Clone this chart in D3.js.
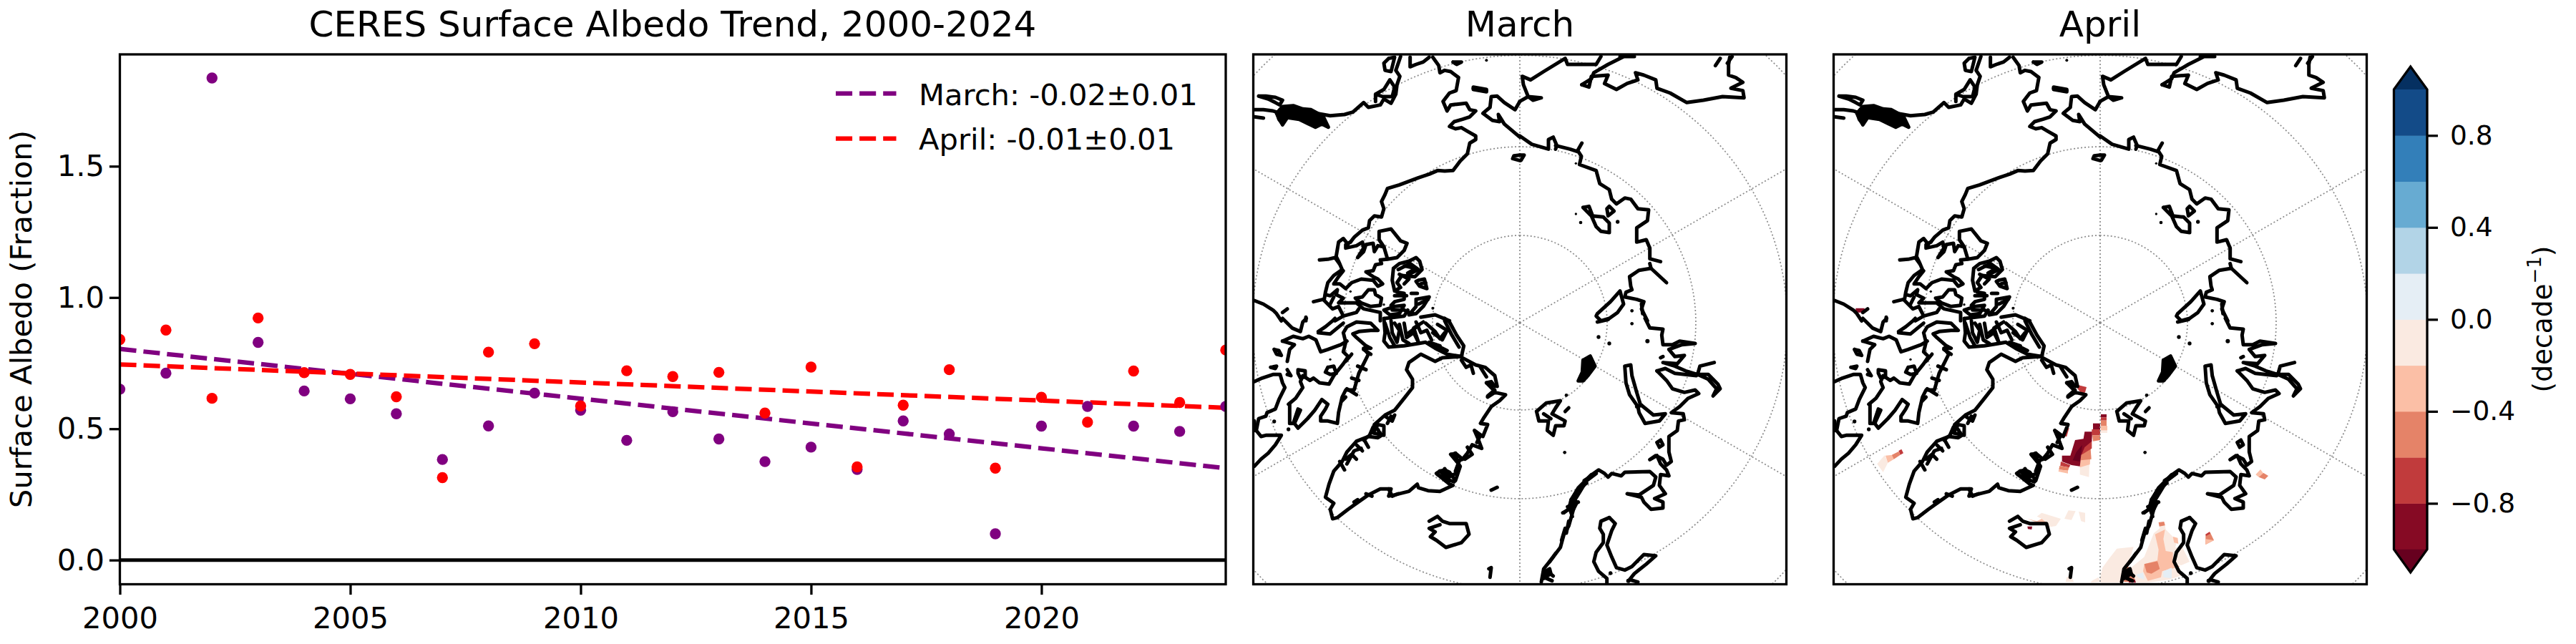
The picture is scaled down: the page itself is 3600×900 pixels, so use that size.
<!DOCTYPE html>
<html><head><meta charset="utf-8">
<script src="https://cdn.jsdelivr.net/npm/d3@7/dist/d3.min.js"></script>
<style>html,body{margin:0;padding:0;background:#fff}svg{display:block}text{font-family:"DejaVu Sans";fill:#000}</style>
</head><body><svg id="c" width="3600" height="900"></svg>
<script>
// ---------- time series ----------
const years=[2000,2001,2002,2003,2004,2005,2006,2007,2008,2009,2010,2011,2012,2013,2014,2015,2016,2017,2018,2019,2020,2021,2022,2023,2024];
const marchValues=[.651,.712,1.836,.829,.644,.614,.557,.383,.511,.636,.571,.456,.565,.461,.375,.43,.345,.53,.48,.10,.51,.585,.51,.49,.585];
const aprilValues=[.84,.876,.616,.922,.714,.707,.622,.314,.792,.824,.587,.721,.699,.715,.56,.735,.355,.59,.725,.35,.62,.525,.72,.60,.80];
const marchTrend=[.804,.35];
const aprilTrend=[.745,.58];
const legendLabels=["March: -0.02\u00b10.01","April: -0.01\u00b10.01"];
const xTicks=[2000,2005,2010,2015,2020];
const yTicks=[0,.5,1,1.5];
// ---------- colour bar ----------
const cbLevels=[-1,-.8,-.6,-.4,-.2,0,.2,.4,.6,.8,1];
const cbColors=["#860a24","#c13b3c","#e58368","#fbbfa6","#faeae1","#e5eef5","#b2d4e7","#67abd2","#337fb9","#134b88"];
const cbUnder="#67001f",cbOver="#053061";
const cbTicks=[-.8,-.4,0,.4,.8];
// ---------- graticule ----------
const parallels=[80,70,60,50];
const meridians=[0,60,120,180,-120,-60];
// ---------- coastlines digitised on the map plane, one quadrant at a time (x,y,x,y,...) ----------
const coastNW=[
[415,790,430,770,465,740,490,730,495,700,515,680,545,685,555,650,545,620,560,590,570,565,620,550,660,535,700,520,745,505,780,490,810,492,845,490,875,450,905,420,915,375,940,360,940,345,905,325,880,310,855,315,830,305,850,285,885,275,915,265,940,240,915,235,900,208,860,212,835,215,820,240,803,200,830,165,858,155,868,100,835,75,810,70,790,80,785,50,760,15],
[625,12,605,70,622,95,610,130,605,170,585,208,555,190,540,215,490,225,470,205,425,245,390,255,330,260,270,250],
[520,170,550,180,590,180,600,140,580,110,555,150,520,170,520,200],
[575,20,600,15,585,75,560,70,555,40,575,20],
[665,15,665,55,690,45,720,35,745,15],
[845,35,880,35,860,45,845,35],
[930,145,985,155],
[1125,200,1105,235,1060,205,1030,178,1005,180,1000,225,970,250,1010,280,1040,285,1035,255,1060,295,1125,350],
[1125,425,1100,428,1095,440,1125,448],
[30,178,60,178,100,183,130,195,118,215,100,205,70,190,30,178],
[12,235,50,235,90,240,105,245,115,275,130,295],
[12,265,50,270],
[405,800,385,775,365,790,355,850,365,870,380,905,345,930,320,960,310,1000,305,1030],
[285,865,320,862,350,855,368,880],
[415,790,395,800,395,815,440,805,465,790,470,815,445,855,470,830,480,800,510,795,515,830,530,805,555,810,570,860],
[555,810,535,780,535,745,585,735,625,785,652,795,640,825,610,855,570,862,540,865,545,880,520,885,510,910,480,915,510,935,530,945,550,965,530,975,510,950,460,945,420,960,395,985,370,965,345,965,365,935,385,910],
[435,1025,465,1020,490,990,515,990,520,1010,545,1025,540,1055,500,1060,460,1045,440,1030],
[595,900,620,880,660,870,690,855,705,870,715,905,685,935,630,930,610,960,625,980,600,995,590,950,595,900],
[640,890,690,900,655,920],
[615,905,665,880,700,905,660,925],[620,925,660,945,640,965],
[700,950,725,945,735,985,705,975,690,955,700,950],[710,965,730,960],
[670,1005,695,1005],
[610,1000,640,1005,640,1030,600,1040,585,1055,600,1060,640,1055,620,1090,580,1095,555,1075,600,1060],
[600,1015,650,1015],[590,1075,640,1075,660,1085],
[690,1030,745,1020,720,1060,690,1090,660,1095,690,1060,690,1030],[700,1050,740,1030],
[710,1105,770,1095,830,1120],
[560,1110,640,1100,655,1075],
[310,1010,330,1015,360,990,355,1010,385,1025,365,1045,395,1045,440,1045,470,1070,540,1085,540,1120],
[260,1040,300,1030,320,1050,340,1070,365,1060,385,1100,440,1085,450,1070],
[330,1050,345,1020],[385,1100,350,1120],
[12,1035,50,1050,90,1075,105,1090,125,1120],[130,1085,150,1070],[228,1105,228,1120]
];
const coastNE=[
[0,200,35,180,90,185,55,195,35,180,15,130,10,95,45,110,100,75,190,20,200,45,260,45,320,45,340,12],
[420,12,480,12],
[260,130,290,140,300,95,370,90,355,125,405,150,450,125,495,110,485,80,520,90,570,110,575,145,630,165,700,205,770,195,850,180,940,185,935,155,885,145,915,130,935,120,905,100,875,90,875,45,880,15],
[260,130,300,105,310,80,370,45,430,15],
[820,50,840,20],[870,40,890,12],
[0,345,50,380,120,400,120,360,140,350,155,385,150,400],
[150,385,210,400,240,410,260,375],
[245,410,258,430,250,465,320,490,335,545,375,570,385,610,405,630,440,605,465,610,495,650,540,655,535,700,490,730,490,790,530,780,545,815,545,860,590,872],
[545,880,550,900,615,960],
[550,900,500,908,460,935,465,975,470,990,445,1000,440,1020,490,1030,520,1040,510,1070,535,1120],
[0,425,18,425,5,447],
[265,645,290,640,305,680,350,685,375,710,375,750,340,745,320,725,300,680,265,645],
[375,640,395,660,370,680,365,650,375,640],
[325,1090,380,1040,420,995,435,1050,410,1085,375,1110,340,1120,320,1100,325,1090],
[510,1050,515,1090]
];
const coastSW=[
[12,265,45,250,90,235,120,235,130,270,140,290,115,340,100,380,65,395,60,410,30,420,20,470,40,495,60,490,125,490,100,530,70,565,40,590,12,620],
[12,430,15,470],
[155,360,185,335,215,290,205,265,215,240,245,260,260,250,285,270,325,275,345,240,385,190,405,160,385,140,395,100,385,60,400,35,440,15,500,20,530,50,500,50,450,55,425,65,440,80,480,115,500,125,470,125,490,150,470,190,450,230,440,265,430,300,395,300,380,330,365,395,360,440,320,430,290,430,290,410,310,380,320,360,295,340,265,385,235,420,195,460,180,440,205,385,195,380,175,440,160,440,160,360],
[470,130,500,150],[445,200,480,215],[420,250,450,260],[400,295,440,320],[395,330,380,345],
[130,0,170,40,205,55,215,15,230,0],
[130,95,175,75,215,85,240,75,270,90,290,140,320,130,375,110,400,95],
[150,180,160,130,180,110,130,95],
[280,55,310,35,340,10,350,0],[280,60,330,65,360,40,385,20],
[95,130,115,135,125,155,105,150,95,130],
[80,205,105,200,100,210,80,205],
[150,215,165,240,150,235],
[195,215,225,220,225,245,205,250,195,230,195,215],
[320,205,345,200,355,230,330,235,310,225,320,205],
[395,180,420,150],
[555,0,560,60,555,95,575,120,640,115,700,105,730,100,770,125,820,150,880,160,890,115,860,70,830,15,810,0],
[585,10,590,60,610,100,620,50,600,20],
[640,20,650,80,680,60,700,100,680,40,720,15],
[780,25,820,50,800,90,760,60],[745,100,790,115],
[560,20,580,80,600,115],[620,25,635,90,660,105],[690,15,710,60,735,50,755,90],[730,20,770,55,790,85,810,60],[810,10,840,70,870,120],[770,110,820,135],[660,60,700,30],
[875,160,940,195,980,205,1020,240,1030,285,985,270,1020,305,990,330,1020,310,1065,320,1040,345,1005,370,975,415,960,440,990,445,970,495,935,470,950,505,965,545,925,530,905,565,885,590,855,565,840,570,875,620,855,680,830,645,810,635,790,640,775,650,830,695,845,700,790,725,740,722,700,710,695,695,660,725,600,740,575,745,585,715,540,715,490,740,440,775,405,800,360,835,340,840,330,800,345,775,310,750,325,695,345,640,380,600,400,560,440,515,490,495,530,500,545,490,515,445,560,405,600,385,640,335,675,290,675,255,650,215,660,185,710,150,770,180,800,165,875,160],
[510,480,530,445,555,450,555,490,510,480],
[400,610,430,555,460,545],[470,505,490,540],[585,410,570,440],[790,640,830,680],[840,570,870,600,855,640],
[790,640,830,660,860,650],[780,655,820,675,850,685],[810,630,830,665],[835,570,860,600,885,590],[855,565,870,620],
[935,470,960,490,945,520],[905,540,925,570,895,590],[985,270,1005,265,1020,285],[990,325,1020,300],[880,175,900,205,920,195,930,230],[960,205,985,245],
[510,455,495,490,470,510],[440,530,465,555],[395,590,420,570,440,590],[370,600,390,635],[560,410,590,430,600,405],
[430,770,445,760],[480,735,505,745],[575,715,590,745,615,735],
[745,850,780,830,800,850,830,860,900,860,912,905,880,940,815,960,775,930,750,915,770,895,745,880,790,865],
[1005,720,1030,708],[995,1050,1005,1045,1000,1085]
];
const coastSE=[
[440,200,465,195,470,240,490,310,505,360,560,405,610,400,585,430,525,440,500,395,495,370,460,320,445,270,440,200],[490,370,510,365],
[525,0,545,40,600,45,595,70,600,110,640,110,670,95,735,105,680,110,625,130,650,160,690,155,660,190,600,185,650,200,695,220,745,235,755,200,815,185],
[745,235,790,235,830,275,840,295,810,325,825,295,790,255,745,235],
[575,220,610,210,650,230,740,240],
[575,220,615,260,640,295,690,310,735,300,750,315,705,335,670,370,635,395,685,400,690,425,665,430,660,470,625,495,625,560,635,600,615,615,600,590,570,575,545,592,575,575,590,610,615,635,625,660,590,655,585,700,610,735,565,755,600,770,600,795,550,800,520,770,510,750,450,735,500,740,560,700,570,665,545,642,440,645,425,660,385,650,370,665,355,650,330,635,295,660,245,710,215,765,225,800,205,870,185,905,170,960,140,1000,100,1050,90,1105],
[300,655,270,690,240,720,215,760],[320,650,280,680,250,730,225,770],[235,740,215,790],[205,850,195,900],[190,880,175,930],[150,985,125,1020],[115,1060,140,1080],[100,1085,135,1100],[185,815,215,790],[210,800,220,830],
[375,835,340,850,335,880,350,905,350,940,320,980,310,1020,330,1060,365,1090,365,1110],
[375,835,400,860,385,890,365,950,385,1000,405,1045,440,1055,470,1040,520,990,570,995,530,1030,480,1070,460,1095,495,1105],
[70,390,110,355,170,345,150,375,135,400,190,430,185,450,150,450,140,490,115,470,120,430,80,430,70,390],
[100,400,130,420],[190,390,205,375],
[325,15,370,5],
[575,520,590,510,600,530,585,540,575,520],
[590,165,600,160],
[270,680,300,660],[200,790,245,770],[180,815,225,790],[240,720,280,690]
];
const solidsNW=[[130,222,175,218,215,232,250,235,300,262,322,308,295,295,268,308,240,295,200,275,150,268,130,298,105,250,130,222],[930,140,985,150,985,160,930,150]];
const solidsSE=[[245,262,262,225,265,175,295,158,315,200,285,240,265,262],[215,760,240,770,225,800,205,800],[100,1065,125,1050,130,1070,100,1090]];
const dotsNW=[[985,28,6],[415,997,5],[555,1052,5],[760,1067,6]];
const dotsNE=[[235,460,5],[235,672,5],[255,708,7],[410,705,8],[470,1078,7]];
const dotsSW=[[95,432,8],[330,172,5],[155,465,8]];
const dotsSE=[[330,78,8],[375,105,8],[470,22,7],[535,95,9],[195,322,7],[188,562,7],[380,1068,8],[455,1100,9]];
// ---------- April trend patches digitised on the map plane: [level index, polygon] ----------
const cellsNW=[[0,[100,1067,137,1067,137,1085,100,1085]]];
const cellsSW=[
[4,[1040,620,1080,610,1078,665,1040,655]],[3,[1040,590,1085,560,1082,612,1040,625]],[2,[1045,570,1085,545,1088,590,1042,595]],[1,[1045,570,1060,530,1090,510,1090,545,1050,570]],
[0,[965,575,1000,575,1020,510,1055,505,1060,475,1092,475,1090,515,1060,540,1045,575,1040,620,1005,615,965,600]],
[-1,[1010,595,1040,600,1050,530,1025,560]],
[1,[960,600,1000,615,995,625,958,618]],[2,[955,618,995,625,990,638,952,634]],[3,[952,634,990,638,990,650,950,642]],
[0,[1095,440,1125,440,1125,465,1095,465]],[1,[1090,465,1125,465,1125,490,1090,490]],[2,[1092,490,1125,490,1125,510,1095,515]],
[1,[1035,280,1068,288,1062,310,1050,318,1030,295]],[1,[980,460,995,460,985,495,970,495]],
[4,[190,610,222,573,235,605,215,645]],[3,[225,575,255,572,260,590,235,605]],[2,[252,572,280,558,287,572,260,590]],[1,[280,555,292,548,300,565,287,572]],
[4,[860,830,880,815,960,840,940,870,910,875,880,840]],[3,[820,840,860,850,880,840,910,865,880,865,860,855]],[0,[820,872,840,872,838,885,822,883]],
[4,[975,840,992,805,1022,808,1005,845]],[4,[1035,810,1062,815,1062,855,1045,850]],
[4,[985,1085,1000,1075,1015,1105,980,1105]],[4,[1090,1100,1118,1085,1125,1105,1085,1108]]
];
const cellsSE=[
[0,[3,402,27,402,27,415,3,415]],[1,[3,415,27,415,27,428,3,428]],[2,[3,428,27,428,27,450,3,450]],[3,[3,450,30,450,30,470,3,470]],[4,[3,470,30,470,30,480,3,480]],
[4,[10,1045,35,1010,70,965,140,958,125,1010,95,1060,90,1108,0,1108,0,1085]],
[2,[115,1040,135,1050,150,1105,100,1105,95,1060]],[0,[120,1095,150,1095,150,1108,120,1108]],
[4,[130,1045,185,1000,225,900,250,880,245,855,270,855,275,885,310,920,325,925,315,960,345,960,375,1020,340,1035,320,1030,350,1075,290,1095,200,1108,150,1108]],
[3,[230,905,272,885,265,925,275,975,305,980,305,1020,335,1040,260,1060,255,1085,200,1100,180,1060,185,1030,240,1015,245,970]],
[2,[185,1030,240,1018,250,1050,215,1070,195,1065]],[2,[245,855,268,852,272,868,248,872]],[3,[305,915,325,920,328,945,310,940]],
[5,[150,1075,180,1065,185,1095,160,1085]],[5,[265,1060,300,1045,300,1090,265,1085]],
[2,[442,905,460,895,477,930,442,948]],[3,[442,925,477,930,442,948]],[1,[442,905,458,895,462,902,444,912]],
[3,[652,655,672,633,685,650,665,665]],[2,[665,665,685,648,705,660,690,675]]
];
// ---------- drawing ----------
const svg=d3.select("#c");
const black="#000",FW=3.3,tickFS=41.67,coastW=5;
const W={l:167.5,r:1713,t:76,b:816.5};
const x=d3.scaleLinear().domain([2000,2024]).range([W.l,W.r]);
const y=d3.scaleLinear().domain([0,1.5]).range([782.7,232.3]);
const defs=svg.append("defs");
defs.append("clipPath").attr("id","cpLine").append("rect").attr("x",W.l).attr("y",W.t).attr("width",W.r-W.l).attr("height",W.b-W.t);
const g0=svg.append("g").attr("clip-path","url(#cpLine)");
g0.append("line").attr("x1",W.l).attr("x2",W.r).attr("y1",y(0)).attr("y2",y(0)).attr("stroke",black).attr("stroke-width",5);
[[marchTrend,"purple"],[aprilTrend,"red"]].forEach(([t,c])=>{
 g0.append("line").attr("x1",x(2000)).attr("x2",x(2024)).attr("y1",y(t[0])).attr("y2",y(t[1])).attr("stroke",c).attr("stroke-width",6.25).attr("stroke-dasharray","23.1 10");
});
[[marchValues,"purple"],[aprilValues,"red"]].forEach(([v,c])=>{
 g0.selectAll(null).data(v).enter().append("circle").attr("cx",(d,i)=>x(years[i])).attr("cy",d=>y(d)).attr("r",7.7).attr("fill",c);
});
const xAxis=d3.axisBottom(x).tickValues(xTicks).tickFormat(d3.format("d")).tickSize(14.6).tickPadding(7);
const yAxis=d3.axisLeft(y).tickValues(yTicks).tickFormat(d3.format(".1f")).tickSize(14.6).tickPadding(7);
function styleAxis(g){g.select(".domain").remove();g.selectAll(".tick line").attr("stroke",black).attr("stroke-width",FW);g.selectAll("text").attr("font-family","DejaVu Sans").attr("font-size",tickFS).attr("fill",black);}
svg.append("g").attr("transform",`translate(0,${W.b})`).call(xAxis).call(styleAxis).selectAll("text").attr("y",null).attr("dy",null).attr("transform","translate(0,61.5)");
svg.append("g").attr("transform",`translate(${W.l},0)`).call(yAxis).call(styleAxis);
svg.append("rect").attr("x",W.l).attr("y",W.t).attr("width",W.r-W.l).attr("height",W.b-W.t).attr("fill","none").attr("stroke",black).attr("stroke-width",FW);
svg.append("text").attr("x",940).attr("y",51).attr("text-anchor","middle").attr("font-size",50).text("CERES Surface Albedo Trend, 2000-2024");
svg.append("text").attr("transform",`translate(44,446) rotate(-90)`).attr("text-anchor","middle").attr("font-size",tickFS).text("Surface Albedo (Fraction)");
[["purple",130.7,146.7],["red",193.7,209]].forEach(([c,ly,ty],i)=>{
 svg.append("line").attr("x1",1168).attr("x2",1252.5).attr("y1",ly).attr("y2",ly).attr("stroke",c).attr("stroke-width",6.25).attr("stroke-dasharray","23.1 10");
 svg.append("text").attr("x",1284).attr("y",ty).attr("font-size",tickFS).text(legendLabels[i]);
});
// maps
const mapX=d3.scaleLinear().domain([0,1125]).range([0,375]);
const mapY=d3.scaleLinear().domain([0,1125]).range([0,375]);
const quad={NW:[2560,75],NE:[2935,75],SW:[2560,445],SE:[2935,445]};
const line=d3.line().curve(d3.curveLinear);
function pts(flat,o,sh){const p=[];for(let i=0;i<flat.length;i+=2)p.push([o[0]-sh+mapX(flat[i]),o[1]+mapY(flat[i+1])]);return p;}
const projection=d3.geoStereographic().rotate([0,-90]).scale(1395).clipAngle(60).precision(.3);
function drawMap(left,right,title,sh,withCells){
 const id="cpMap"+sh;
 defs.append("clipPath").attr("id",id).append("rect").attr("x",left).attr("y",W.t).attr("width",right-left).attr("height",W.b-W.t);
 const g=svg.append("g").attr("clip-path",`url(#${id})`);
 if(withCells){
  [["NW",cellsNW],["SW",cellsSW],["SE",cellsSE]].forEach(([q,cells])=>{
   cells.forEach(([lev,poly])=>{
    g.append("path").attr("d",line(pts(poly,quad[q],sh))+"Z").attr("fill",lev<0?cbUnder:cbColors[lev]).attr("stroke","none");
   });
  });
 }
 projection.translate([2935-sh,451]);
 const path=d3.geoPath(projection);
 const gridStyle=s=>s.attr("fill","none").attr("stroke","#8c8c8c").attr("stroke-width",1.7).attr("stroke-dasharray","2 3");
 parallels.forEach(p=>{
  const ring=d3.range(-180,181,3).map(l=>[l,p]);
  g.append("path").attr("d",path({type:"LineString",coordinates:ring})).call(gridStyle);
 });
 meridians.forEach(m=>{
  g.append("path").attr("d",path({type:"LineString",coordinates:[[m,90],[m,35]]})).call(gridStyle);
 });
 const coastStyle=s=>s.attr("fill","none").attr("stroke",black).attr("stroke-width",coastW).attr("stroke-linejoin","round").attr("stroke-linecap","round");
 [["NW",coastNW],["NE",coastNE],["SW",coastSW],["SE",coastSE]].forEach(([q,ls])=>{
  ls.forEach(l=>g.append("path").attr("d",line(pts(l,quad[q],sh))).call(coastStyle));
 });
 [["NW",solidsNW],["SE",solidsSE]].forEach(([q,ls])=>{
  ls.forEach(l=>g.append("path").attr("d",line(pts(l,quad[q],sh))+"Z").attr("fill",black).attr("stroke",black).attr("stroke-width",coastW).attr("stroke-linejoin","round"));
 });
 [["NW",dotsNW],["NE",dotsNE],["SW",dotsSW],["SE",dotsSE]].forEach(([q,ds])=>{
  ds.forEach(d=>{const p=pts(d,quad[q],sh)[0];g.append("circle").attr("cx",p[0]).attr("cy",p[1]).attr("r",mapX(d[2])).attr("fill",black);});
 });
 svg.append("rect").attr("x",left).attr("y",W.t).attr("width",right-left).attr("height",W.b-W.t).attr("fill","none").attr("stroke",black).attr("stroke-width",FW);
 svg.append("text").attr("x",(left+right)/2).attr("y",51).attr("text-anchor","middle").attr("font-size",50).text(title);
}
drawMap(1751.5,2496.5,"March",811,false);
drawMap(2562.5,3307.5,"April",0,true);
// colour bar
const cb=d3.scaleLinear().domain([-1,1]).range([767.7,125]);
const cbL=3345.5,cbR=3392,cbM=(cbL+cbR)/2;
svg.selectAll(null).data(cbColors).enter().append("rect").attr("x",cbL).attr("width",cbR-cbL).attr("y",(d,i)=>cb(cbLevels[i+1])).attr("height",(d,i)=>cb(cbLevels[i])-cb(cbLevels[i+1])+.5).attr("fill",d=>d);
svg.append("path").attr("d",`M${cbL},125L${cbM},93L${cbR},125Z`).attr("fill",cbOver);
svg.append("path").attr("d",`M${cbL},767.7L${cbM},800L${cbR},767.7Z`).attr("fill",cbUnder);
svg.append("path").attr("d",`M${cbL},125L${cbM},93L${cbR},125L${cbR},767.7L${cbM},800L${cbL},767.7Z`).attr("fill","none").attr("stroke",black).attr("stroke-width",FW);
const cbAxis=d3.axisRight(cb).tickValues(cbTicks).tickFormat(d=>d3.format(".1f")(d).replace("-","\u2212")).tickSize(15).tickPadding(17);
svg.append("g").attr("transform",`translate(${cbR},0)`).call(cbAxis).call(g=>{g.select(".domain").remove();g.selectAll(".tick line").attr("stroke",black).attr("stroke-width",FW);g.selectAll("text").attr("font-family","DejaVu Sans").attr("font-size",37.5).attr("fill",black);});
const cl=svg.append("text").attr("transform","translate(3566,446) rotate(-90)").attr("text-anchor","middle").attr("font-size",37.5);
cl.append("tspan").text("(decade");
cl.append("tspan").attr("dy",-15).attr("font-size",26).text("\u22121");
cl.append("tspan").attr("dy",15).text(")");
</script></body></html>
